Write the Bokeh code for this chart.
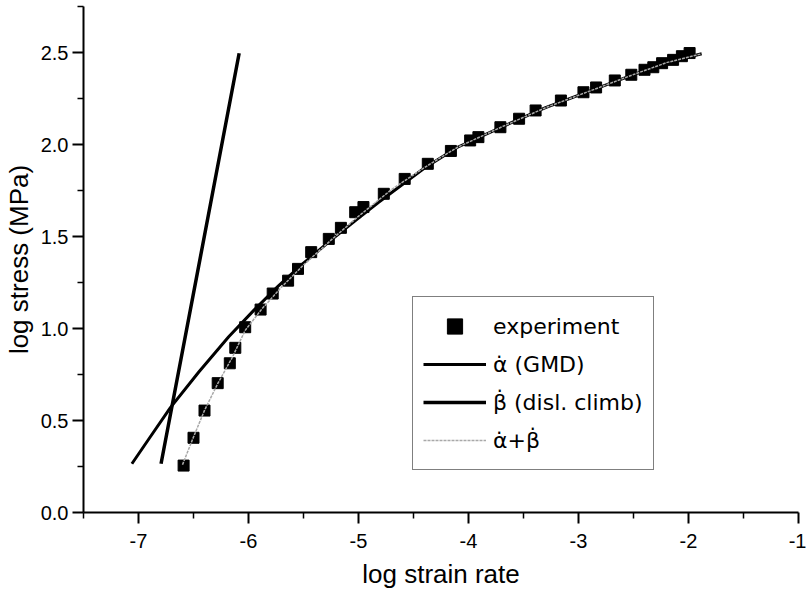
from bokeh.plotting import figure
from bokeh.models import Range1d, Legend, LegendItem, FixedTicker
from bokeh.embed import file_html
from bokeh.resources import INLINE

# experimental data (log strain rate, log stress)
exp_x = [-6.59, -6.50, -6.40, -6.28, -6.17, -6.12, -6.03, -5.89, -5.78, -5.64,
         -5.55, -5.43, -5.27, -5.16, -5.03, -4.955, -4.77, -4.58, -4.37, -4.16,
         -3.985, -3.91, -3.71, -3.54, -3.39, -3.16, -2.955, -2.84, -2.67, -2.52,
         -2.40, -2.32, -2.24, -2.14, -2.06, -1.99]
exp_y = [0.255, 0.406, 0.554, 0.703, 0.811, 0.895, 1.007, 1.103, 1.19, 1.26,
         1.324, 1.415, 1.487, 1.547, 1.632, 1.66, 1.732, 1.813, 1.895, 1.965,
         2.022, 2.04, 2.094, 2.14, 2.185, 2.239, 2.284, 2.31, 2.348, 2.379,
         2.406, 2.42, 2.442, 2.46, 2.48, 2.497]

# alpha (GMD) curve
alpha_x = [-7.06, -6.90, -6.71, -6.45, -6.18, -5.95, -5.73, -5.50, -5.25, -5.00,
           -4.82, -4.40, -4.10, -3.70, -3.30, -2.90, -2.50, -2.20, -1.88]
alpha_y = [0.265, 0.405, 0.570, 0.765, 0.955, 1.100, 1.230, 1.355, 1.480, 1.600,
           1.685, 1.872, 1.985, 2.095, 2.200, 2.290, 2.380, 2.445, 2.493]

# beta (dislocation climb) line
beta_x = [-6.795, -6.44, -6.085]
beta_y = [0.265, 1.38, 2.496]

# alpha + beta fit
fit_x = [-6.60, -6.50, -6.40, -6.28, -6.15, -6.03, -5.88, -5.70, -5.50, -5.25,
         -5.00, -4.70, -4.40, -4.10, -3.70, -3.30, -2.90, -2.50, -2.20, -1.88]
fit_y = [0.26, 0.41, 0.555, 0.70, 0.84, 0.99, 1.105, 1.225, 1.345, 1.48,
         1.61, 1.755, 1.875, 1.985, 2.095, 2.20, 2.29, 2.38, 2.445, 2.493]

x_ticks = [-7, -6, -5, -4, -3, -2, -1]
x_labels = ["-7", "-6", "-5", "-4", "-3", "-2", "-1"]
y_ticks = [0.0, 0.5, 1.0, 1.5, 2.0, 2.5]
y_labels = ["0.0", "0.5", "1.0", "1.5", "2.0", "2.5"]
x_minor = [-7.5, -6.5, -5.5, -4.5, -3.5, -2.5, -1.5]
y_minor = [0.25, 0.75, 1.25, 1.75, 2.25, 2.75]

FONT = "Liberation Sans"

p = figure(width=806, height=599, output_backend="svg", toolbar_location=None,
           x_range=Range1d(-7.5, -1), y_range=Range1d(0, 2.75),
           min_border_left=83, min_border_right=8, min_border_top=6,
           min_border_bottom=87)
p.outline_line_color = None
p.xgrid.visible = False
p.ygrid.visible = False
p.background_fill_color = "white"
p.border_fill_color = "white"

p.xaxis.ticker = FixedTicker(ticks=x_ticks, minor_ticks=x_minor)
p.yaxis.ticker = FixedTicker(ticks=y_ticks, minor_ticks=y_minor)
p.xaxis.major_label_overrides = dict(zip(x_ticks, x_labels))
p.yaxis.major_label_overrides = dict(zip(y_ticks, y_labels))

for ax in (p.xaxis[0], p.yaxis[0]):
    ax.axis_line_width = 2
    ax.axis_line_color = "black"
    ax.major_tick_line_width = 2
    ax.minor_tick_line_width = 1.5
    ax.major_tick_in = 0
    ax.major_tick_out = 11
    ax.minor_tick_in = 0
    ax.minor_tick_out = 6
    ax.major_label_text_font = FONT
    ax.major_label_text_font_size = "20px"
    ax.major_label_text_color = "black"
    ax.axis_label_text_font = FONT
    ax.axis_label_text_font_size = "26px"
    ax.axis_label_text_font_style = "normal"
    ax.axis_label_text_color = "black"

p.xaxis.axis_label = "log strain rate"
p.yaxis.axis_label = "log stress (MPa)"
p.xaxis.major_label_standoff = 10
p.xaxis.axis_label_standoff = 8
p.yaxis.major_label_standoff = 4
p.yaxis.axis_label_standoff = 4

r_alpha = p.line(alpha_x, alpha_y, line_color="black", line_width=3)
r_beta = p.line(beta_x, beta_y, line_color="black", line_width=3.5)
r_exp = p.scatter(exp_x, exp_y, marker="square", size=11, fill_color="black",
                  line_color="black")
r_fit = p.line(fit_x, fit_y, line_color="#a8a8a8", line_width=1.5, line_dash="3 1")

legend = Legend(items=[
    LegendItem(label="experiment", renderers=[r_exp]),
    LegendItem(label="\u03b1\u0307 (GMD)", renderers=[r_alpha]),
    LegendItem(label="\u03b2\u0307 (disl. climb)", renderers=[r_beta]),
    LegendItem(label="\u03b1\u0307+\u03b2\u0307", renderers=[r_fit]),
], location=(329, 42))
legend.padding = 10
legend.spacing = 0
legend.margin = 0
legend.label_height = 38
legend.glyph_height = 38
legend.glyph_width = 63
legend.label_standoff = 7
legend.label_text_font = "DejaVu Sans"
legend.label_text_font_size = "22px"
legend.label_text_color = "black"
legend.border_line_color = "black"
legend.border_line_width = 1.5
legend.background_fill_color = "white"
legend.background_fill_alpha = 1
p.add_layout(legend, "center")

open("out.html", "w").write(file_html(p, INLINE))
